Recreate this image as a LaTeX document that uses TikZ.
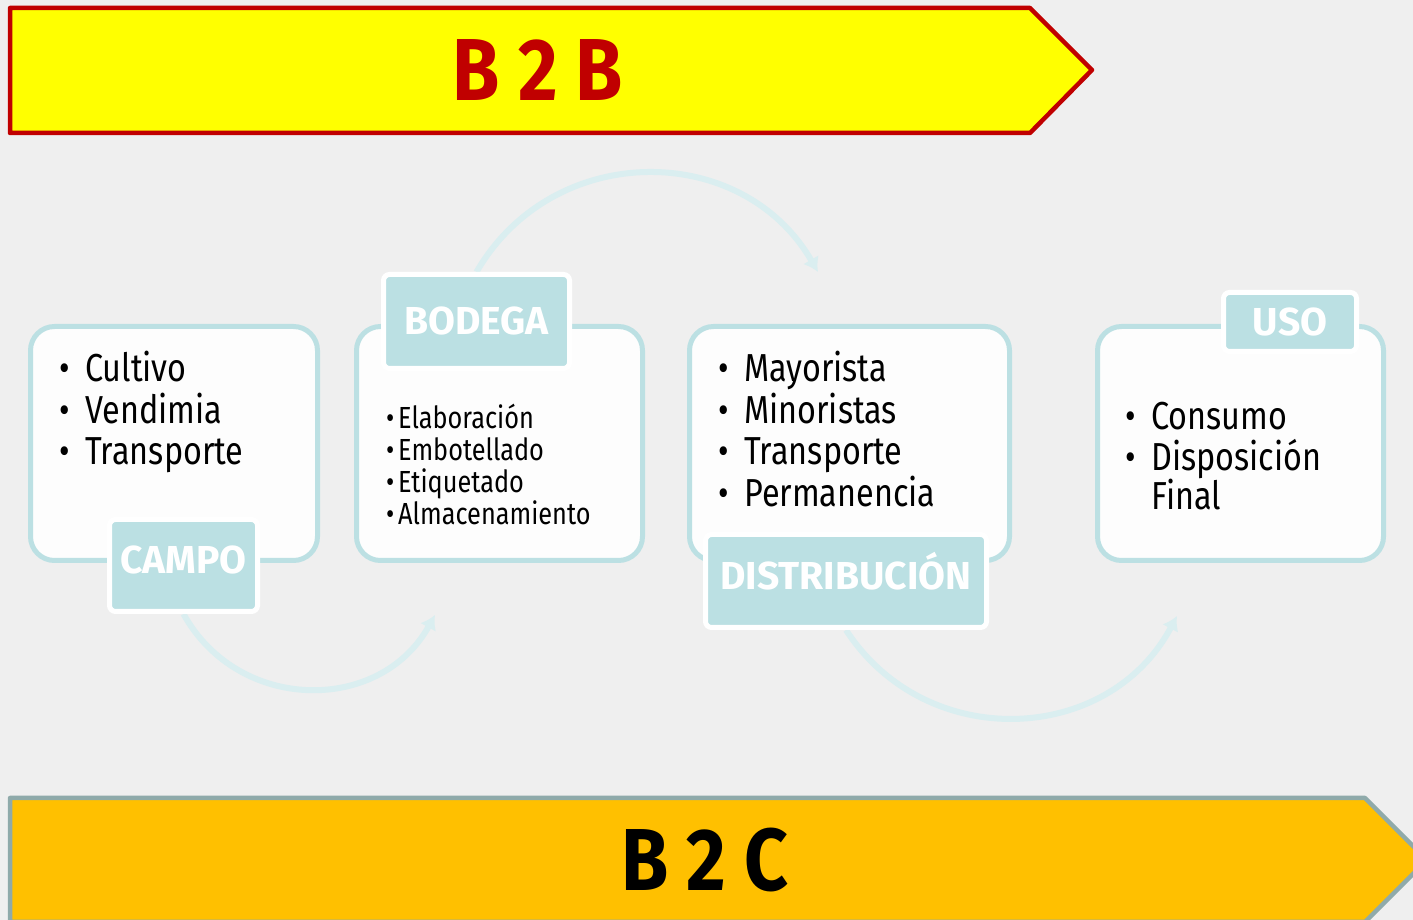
\documentclass[tikz,border=0pt]{standalone}
\usepackage{fontspec}
\setmainfont{Fira Sans}
\newfontfamily\listfont{Fira Sans}[FakeStretch=0.83]
\newfontfamily\titlefont{Fira Sans}[FakeStretch=0.87]
\usetikzlibrary{positioning,arrows.meta,backgrounds}
\definecolor{bggray}{HTML}{EFEFEF}
\definecolor{b2byellow}{HTML}{FFFF00}
\definecolor{b2bred}{HTML}{C00000}
\definecolor{b2corange}{HTML}{FFC000}
\definecolor{b2cgray}{HTML}{8FAAAA}
\definecolor{cardline}{HTML}{BCE0E3}
\definecolor{cardfill}{HTML}{FDFDFD}
\definecolor{tabfill}{HTML}{BBE0E3}
\definecolor{flowline}{HTML}{DAEEF0}
\newcommand{\blt}[2][26pt]{\makebox[#1][l]{\textbullet}#2}

\begin{document}
\begin{tikzpicture}[x=1pt,y=1pt]
\tikzstyle{card}=[rectangle, rounded corners=24pt, draw=cardline, line width=5pt, fill=cardfill, minimum height=234pt]
\tikzstyle{tab}=[rectangle, rounded corners=6pt, draw=white, line width=5pt, fill=tabfill, text=white, text height=27pt, text depth=0pt, font=\bfseries\fontsize{39}{39}\selectfont]
\tikzstyle{list}=[anchor=base west, align=left, inner sep=0pt, font=\listfont\fontsize{39}{41.5}\selectfont]
\tikzstyle{flow}=[draw=flowline, line width=6pt, -{Latex[length=14pt,width=18pt]}]
\tikzstyle{banner}=[line width=4.5pt, line join=round]
\tikzstyle{title}=[font=\titlefont\bfseries\fontsize{88}{88}\selectfont]
  \useasboundingbox (0,0) rectangle (1413,920);
  % banners
  \draw[banner, draw=b2bred, fill=b2byellow] (10,912) -- (1030,912) -- (1092,850) -- (1030,787) -- (10,787) -- cycle;
  \node[title, text=b2bred] (b2b) at (538,850) {B 2 B};
  \draw[banner, draw=b2cgray, fill=b2corange] (10,122) -- (1365,122) -- (1427,60) -- (1365,-2) -- (10,-2) -- cycle;
  \node[title, text=black] (b2c) at (705,60) {B 2 C};
  % cards
  \node[card, minimum width=287pt] (campo) at (174,476.5) {};
  \node[card, minimum width=286pt] (bodega) [right=34pt of campo] {};
  \node[card, minimum width=320pt] (distrib) [right=42pt of bodega] {};
  \node[card, minimum width=286pt] (uso) [right=83pt of distrib] {};
  % tabs
  \node[tab, text depth=10pt, minimum width=148pt, minimum height=92pt] (campotab) at (183.5,354.5) {CAMPO};
  \node[tab, minimum width=186pt, minimum height=94pt] (bodegatab) at (476.5,598.5) {BODEGA};
  \node[tab, text depth=10pt, minimum width=281pt, minimum height=93pt] (distribtab) at (846,339) {DISTRIBUCIÓN};
  \node[tab, minimum width=133pt, minimum height=59pt] (usotab) at (1290,598) {USO};
  % lists (anchored at the baseline of the last line)
  \node[list] (campolist) at (59,455) {\blt{Cultivo}\\\blt{Vendimia}\\\blt{Transporte}};
  \node[list, font=\listfont\fontsize{30.5}{32.3}\selectfont] (bodegalist) at (386,395)
    {\blt[12pt]{Elaboración}\\\blt[12pt]{Embotellado}\\\blt[12pt]{Etiquetado}\\\blt[12pt]{Almacenamiento}};
  \node[list] (distriblist) at (718,413.5) {\blt{Mayorista}\\\blt{Minoristas}\\\blt{Transporte}\\\blt{Permanencia}};
  \node[list, font=\listfont\fontsize{39}{35}\selectfont] (usolist) at (1125,410)
    {\blt{Consumo}\\[6pt]\blt{Disposición}\\\makebox[26pt]{}Final};
  \coordinate (e1) at (435,305);
  \coordinate (e2) at (818,648);
  \coordinate (e3) at (1177,304);
  % arrows behind
  \begin{pgfonlayer}{background}
    \fill[bggray] (0,0) rectangle (1413,920);
    \draw[flow] (campotab.south) to[out=-61, in=-119, looseness=1.15] (e1);
    \draw[flow] (bodegatab.north) to[out=60, in=120, looseness=1.14] (e2);
    \draw[flow] (distribtab.south) to[out=-57, in=-118, looseness=1.13] (e3);
  \end{pgfonlayer}
\end{tikzpicture}
\end{document}
